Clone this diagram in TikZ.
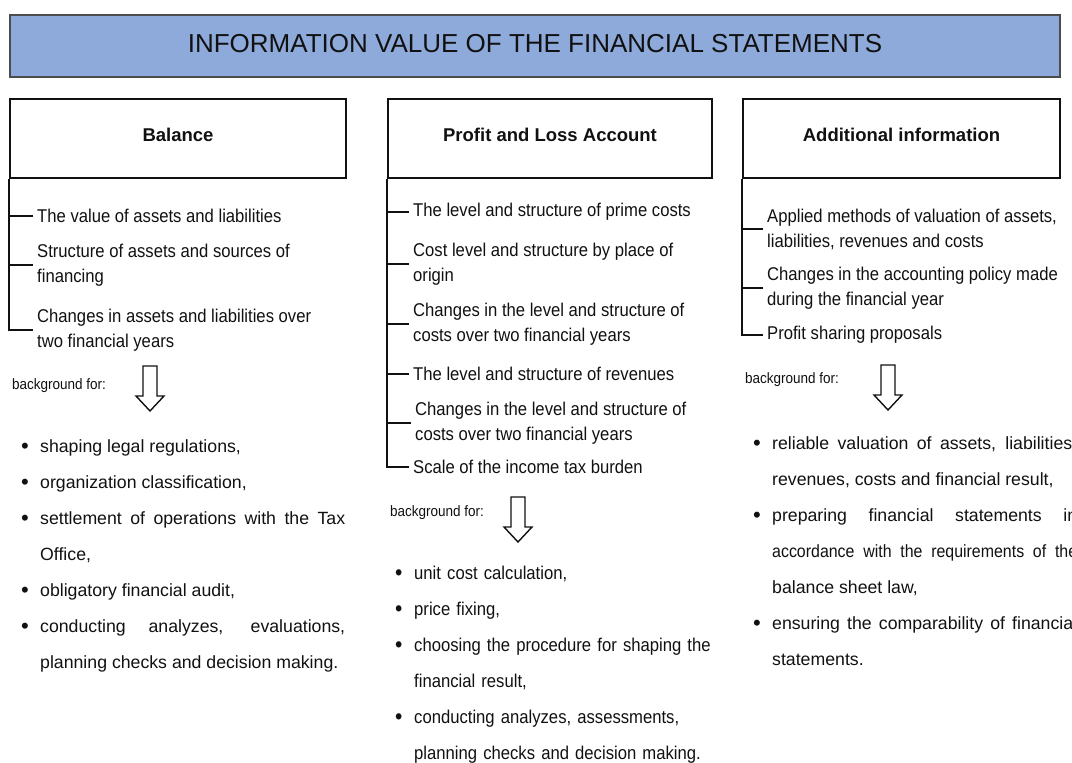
\documentclass[tikz,border=0pt]{standalone}
\usepackage{fontspec}
\setmainfont{Liberation Sans}
\newfontfamily\narrowfont[FakeStretch=0.9]{Liberation Sans}
\usetikzlibrary{positioning}

\definecolor{titleblue}{HTML}{8EAADB}
\definecolor{ink}{HTML}{111111}

% one bullet point with hanging indent
\newcommand{\bitem}[1]{\noindent\hangindent=19pt\hangafter=1\makebox[19pt][l]{\raisebox{-1.6pt}{\scalebox{1.25}{\textbullet}}}#1\par}

\tikzset{
  titlebox/.style={draw=ink!75, line width=1.5pt, fill=titleblue, minimum width=1050, minimum height=62, text height=19, text depth=6, font=\fontsize{26}{30}\selectfont},
  headbox/.style={draw=ink, line width=2pt, minimum height=79, text height=13, text depth=7, font=\bfseries\fontsize{18.5}{22}\selectfont},
  entry/.style={anchor=west, align=left, inner xsep=4pt, inner ysep=0pt, font=\narrowfont\fontsize{18.5}{25}\selectfont},
  bracket/.style={draw=ink, line width=1.8pt},
  bgfor/.style={anchor=west, inner sep=0pt, font=\narrowfont\fontsize{15}{17}\selectfont},
  uselist/.style={anchor=base west, inner sep=0pt, text width=324, align=justify, font=\fontsize{17.7}{36}\selectfont},
  hollowdown/.pic={\draw[ink, line width=1.4pt, line join=miter] (-7,0) -- (-7,30) -- (-14,30) -- (0,45) -- (14,30) -- (7,30) -- (7,0) -- cycle;}
}

\begin{document}
\begin{tikzpicture}[x=1pt, y=-1pt, text=ink]
    \useasboundingbox (0,0) rectangle (1072,763);

    \node (title) [titlebox] at (535,46) {INFORMATION VALUE OF THE FINANCIAL STATEMENTS};

    % Balance
    \node (balhead) [headbox, minimum width=336] at (178,138.5) {Balance};
    \node (bal1) [entry] at (33,216) {The value of assets and liabilities};
    \node (bal2) [entry] at (33,265) {Structure of assets and sources of\\financing};
    \node (bal3) [entry] at (33,330) {Changes in assets and liabilities over\\two financial years};
    \draw [bracket] (balhead.south west) |- (bal3.west);
    \foreach \n in {bal1,bal2}
      \draw [bracket] (\n.west) -- (\n.west -| balhead.south west);
    \node (balbg) [bgfor] at (12,386) {background for:};
    \pic at (150,366) {hollowdown};
    \node (baluse) [uselist] at (21,452) {%
      \bitem{shaping legal regulations,}
      \bitem{organization classification,}
      \bitem{settlement of operations with the Tax\linebreak Office,}
      \bitem{obligatory financial audit,}
      \bitem{conducting analyzes, evaluations,\linebreak planning checks and decision making.}};

    % Profit and Loss Account
    \node (plhead) [headbox, minimum width=324] at (550,138.5) {Profit and Loss Account};
    \node (pl1) [entry] at (409,212) {The level and structure of prime costs};
    \node (pl2) [entry] at (409,264) {Cost level and structure by place of\\origin};
    \node (pl3) [entry] at (409,324) {Changes in the level and structure of\\costs over two financial years};
    \node (pl4) [entry] at (409,374) {The level and structure of revenues};
    \node (pl5) [entry] at (411,423) {Changes in the level and structure of\\costs over two financial years};
    \node (pl6) [entry] at (409,467) {Scale of the income tax burden};
    \draw [bracket] (plhead.south west) |- (pl6.west);
    \foreach \n in {pl1,pl2,pl3,pl4,pl5}
      \draw [bracket] (\n.west) -- (\n.west -| plhead.south west);
    \node (plbg) [bgfor] at (390,513) {background for:};
    \pic at (518,497) {hollowdown};
    \node (pluse) [uselist, text width=320, align=left, font=\narrowfont\fontsize{18.5}{36}\selectfont] at (395,579) {%
      \bitem{unit cost calculation,}
      \bitem{price fixing,}
      \bitem{choosing the procedure for shaping the\newline financial result,}
      \bitem{conducting analyzes, assessments,\newline planning checks and decision making.}};

    % Additional information
    \node (addhead) [headbox, minimum width=317] at (901.5,138.5) {Additional information};
    \node (add1) [entry] at (763,229) {Applied methods of valuation of assets,\\liabilities, revenues and costs};
    \node (add2) [entry] at (763,288) {Changes in the accounting policy made\\during the financial year};
    \node (add3) [entry] at (763,335) {Profit sharing proposals};
    \draw [bracket] (addhead.south west) |- (add3.west);
    \foreach \n in {add1,add2}
      \draw [bracket] (\n.west) -- (\n.west -| addhead.south west);
    \node (addbg) [bgfor] at (745,380) {background for:};
    \pic at (888,365) {hollowdown};
    \node (adduse) [uselist] at (753,449) {%
      \bitem{reliable valuation of assets, liabilities,\linebreak revenues, costs and financial result,}
      \bitem{preparing financial statements in\linebreak {\narrowfont accordance with the requirements of the}\linebreak balance sheet law,}
      \bitem{ensuring the comparability of financial\linebreak statements.}};
\end{tikzpicture}
\end{document}
